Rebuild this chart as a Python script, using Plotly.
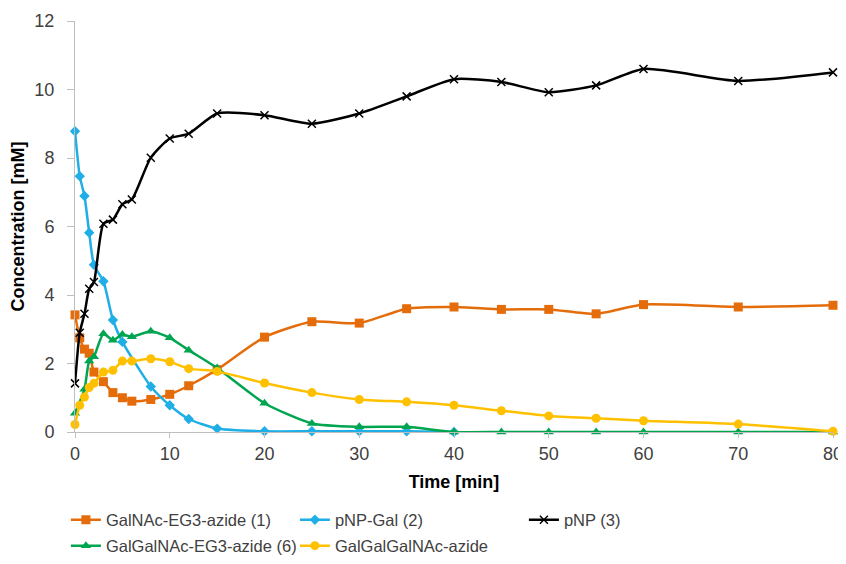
import plotly.graph_objects as go

time = [0, 0.5, 1, 1.5, 2, 3, 4, 5, 6, 8, 10, 12, 15, 20, 25, 30, 35, 40, 45, 50, 55, 60, 70, 80]

galnac = [3.42, 2.75, 2.42, 2.3, 1.75, 1.47, 1.15, 1.0, 0.9, 0.95, 1.1, 1.35, 1.82, 2.77, 3.22, 3.18,
          3.6, 3.65, 3.58, 3.58, 3.45, 3.72, 3.65, 3.7]
pnp_gal = [8.78, 7.47, 6.89, 5.82, 4.88, 4.4, 3.27, 2.63, None, 1.33, 0.78, 0.38, 0.1, 0.02, 0.02, 0.02,
           0.02, 0.0, None, None, None, None, None, None]
pnp = [1.42, 2.9, 3.45, 4.18, 4.38, 6.08, 6.2, 6.65, 6.79, 8.01, 8.57, 8.71, 9.3, 9.25, 9.0, 9.3,
       9.8, 10.3, 10.22, 9.92, 10.12, 10.6, 10.25, 10.5]
galgalnac = [0.55, None, 1.25, 2.07, 2.2, 2.87, 2.68, 2.85, 2.78, 2.94, 2.75, 2.39, 1.87, 0.84, 0.25, 0.15,
             0.15, 0.0, 0.0, 0.0, 0.0, 0.0, 0.0, 0.0]
galgalgal = [0.22, 0.78, 1.02, 1.3, 1.42, 1.75, 1.8, 2.07, 2.07, 2.14, 2.05, 1.85, 1.77, 1.43, 1.15, 0.95,
             0.88, 0.78, 0.62, 0.47, 0.4, 0.33, 0.23, 0.02]

names = ["GalNAc-EG3-azide (1)", "pNP-Gal (2)", "pNP (3)", "GalGalNAc-EG3-azide (6)", "GalGalGalNAc-azide"]
x_ticks = [0, 10, 20, 30, 40, 50, 60, 70, 80]
y_ticks = [0, 2, 4, 6, 8, 10, 12]

series = [
    (names[0], galnac, "#E46C0A", "square", 9, "legend"),
    (names[1], pnp_gal, "#1FAEE6", "diamond", 8, "legend"),
    (names[2], pnp, "#000000", "x-thin", 8, "legend"),
    (names[3], galgalnac, "#00A550", "triangle-up", 9, "legend2"),
    (names[4], galgalgal, "#FFC000", "circle", 9, "legend2"),
]

fig = go.Figure()
for name, vals, col, sym, size, leg in series:
    marker = dict(symbol=sym, size=size, color=col)
    if sym == "x-thin":
        marker["line"] = dict(color=col, width=1.5)
    fig.add_trace(go.Scatter(
        x=time, y=vals, name=name, mode="lines+markers",
        line=dict(color=col, width=2.5, shape="spline", smoothing=0.6),
        marker=marker, connectgaps=True, legend=leg, cliponaxis=False,
    ))

axis_font = dict(family="Liberation Sans, Arial, sans-serif", size=18, color="#404040")
title_font = dict(family="Liberation Sans, Arial, sans-serif", size=18, color="#000000")
leg_font = dict(family="Liberation Sans, Arial, sans-serif", size=16.5, color="#404040")

# page body has an 8px margin, so the figure is sized to fit inside the window
fig.update_layout(
    width=838, height=556,
    margin=dict(l=67, r=13, t=13, b=132, autoexpand=False),
    paper_bgcolor="white", plot_bgcolor="white",
    font=dict(family="Liberation Sans, Arial, sans-serif"),
    xaxis=dict(range=[0, 80], tickvals=x_ticks, ticks="outside", ticklen=5,
               tickcolor="#BFBFBF", showline=True, linecolor="#BFBFBF", linewidth=1,
               showgrid=False, zeroline=False, tickfont=axis_font, automargin=False,
               title=dict(text="<b>Time [min]</b>", font=title_font, standoff=12)),
    yaxis=dict(range=[0, 12], tickvals=y_ticks, ticks="outside", ticklen=7,
               ticklabelstandoff=9,
               tickcolor="#BFBFBF", showline=True, linecolor="#BFBFBF", linewidth=1,
               showgrid=False, zeroline=False, tickfont=axis_font, automargin=False,
               title=dict(text="<b>Concentration [mM]</b>", font=title_font, standoff=7)),
    legend=dict(orientation="h", x=-0.012, y=-0.1715, xanchor="left", yanchor="top",
                entrywidth=184, font=leg_font, bgcolor="rgba(0,0,0,0)"),
    legend2=dict(orientation="h", x=-0.012, y=-0.2346, xanchor="left", yanchor="top",
                 entrywidth=184, font=leg_font, bgcolor="rgba(0,0,0,0)"),
)

fig.write_html("out.html")
